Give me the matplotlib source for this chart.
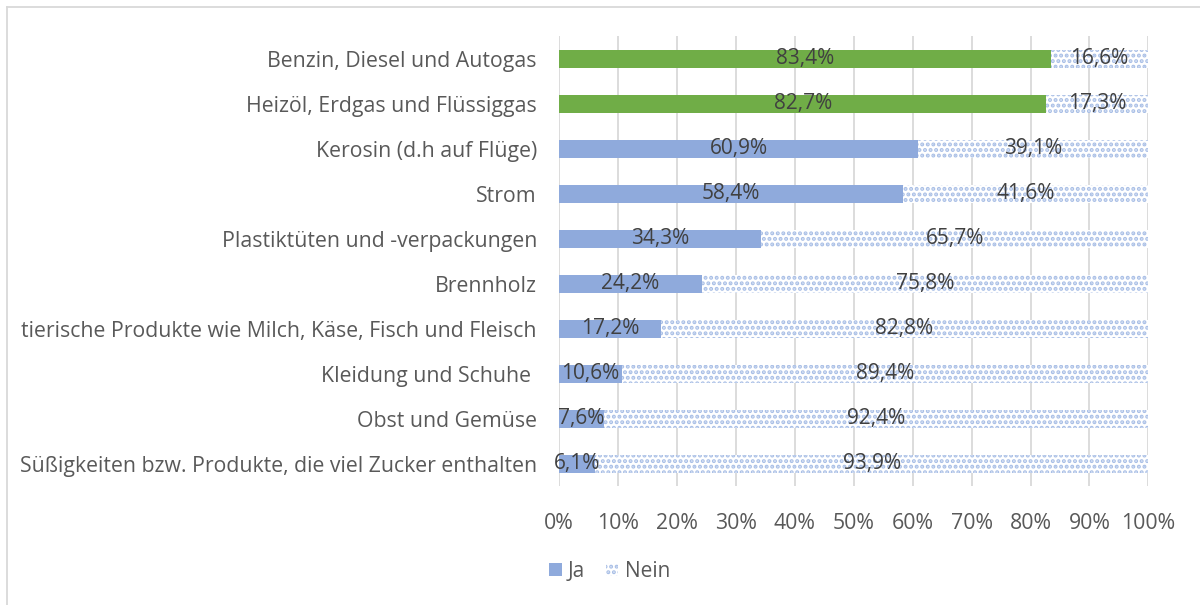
import matplotlib.pyplot as plt
from matplotlib.lines import Line2D
from matplotlib.patches import Patch

categories = ['Benzin, Diesel und Autogas',
              'Heizöl, Erdgas und Flüssiggas',
              'Kerosin (d.h auf Flüge)',
              'Strom',
              'Plastiktüten und -verpackungen',
              'Brennholz',
              'tierische Produkte wie Milch, Käse, Fisch und Fleisch',
              'Kleidung und Schuhe ',
              'Obst und Gemüse',
              'Süßigkeiten bzw. Produkte, die viel Zucker enthalten']
ja = [83.4, 82.7, 60.9, 58.4, 34.3, 24.2, 17.2, 10.6, 7.6, 6.1]
nein = [16.6, 17.3, 39.1, 41.6, 65.7, 75.8, 82.8, 89.4, 92.4, 93.9]
ja_colors = ['#70ad47', '#70ad47'] + ['#8faadc'] * 8

plt.rcParams['font.family'] = ['Open Sans', 'DejaVu Sans']
plt.rcParams['hatch.linewidth'] = 2.0

fig = plt.figure(figsize=(12, 6.05), dpi=100)
ax = fig.add_axes([0.466, 0.196, 0.491, 0.744])

y = list(range(len(categories)))
ax.barh(y, ja, height=0.4, color=ja_colors, zorder=2)
ax.barh(y, nein, left=ja, height=0.4, color='white', edgecolor='#a9bfe6',
        hatch='...', linewidth=0, zorder=2)

for i in y:
    ax.text(ja[i] / 2, i, f'{ja[i]:.1f}%'.replace('.', ','), ha='center', va='center',
            fontsize=15, color='#404040', zorder=3)
    ax.text(ja[i] + nein[i] / 2, i, f'{nein[i]:.1f}%'.replace('.', ','), ha='center',
            va='center', fontsize=15, color='#404040', zorder=3)

ax.set_xlim(0, 100)
ax.set_ylim(len(categories) - 0.5, -0.5)
ax.set_xticks(range(0, 101, 10))
ax.set_xticklabels([f'{t}%' for t in range(0, 101, 10)])
ax.set_yticks(y)
ax.set_yticklabels(categories)
ax.tick_params(length=0, labelsize=15.3, labelcolor='#595959')
ax.tick_params(axis='x', pad=19)
ax.tick_params(axis='y', pad=16)
ax.grid(axis='x', color='#d9d9d9', linewidth=1.3, zorder=0)
for s in ax.spines.values():
    s.set_visible(False)

handles = [Patch(facecolor='#8faadc', label='Ja'),
           Patch(facecolor='white', edgecolor='#a9bfe6', hatch='...', linewidth=0, label='Nein')]
fig.legend(handles=handles, loc='center', bbox_to_anchor=(0.508, 0.055), ncol=2,
           frameon=False, fontsize=15, handlelength=0.6, handleheight=0.6,
           handletextpad=0.3, columnspacing=1.0, labelcolor='#595959')

# chart border
fig.add_artist(Line2D([0.006, 0.006], [0, 0.988], color='#d9d9d9', linewidth=1.3))
fig.add_artist(Line2D([0.006, 1], [0.988, 0.988], color='#d9d9d9', linewidth=1.3))

fig.savefig('out.png', dpi=100)
